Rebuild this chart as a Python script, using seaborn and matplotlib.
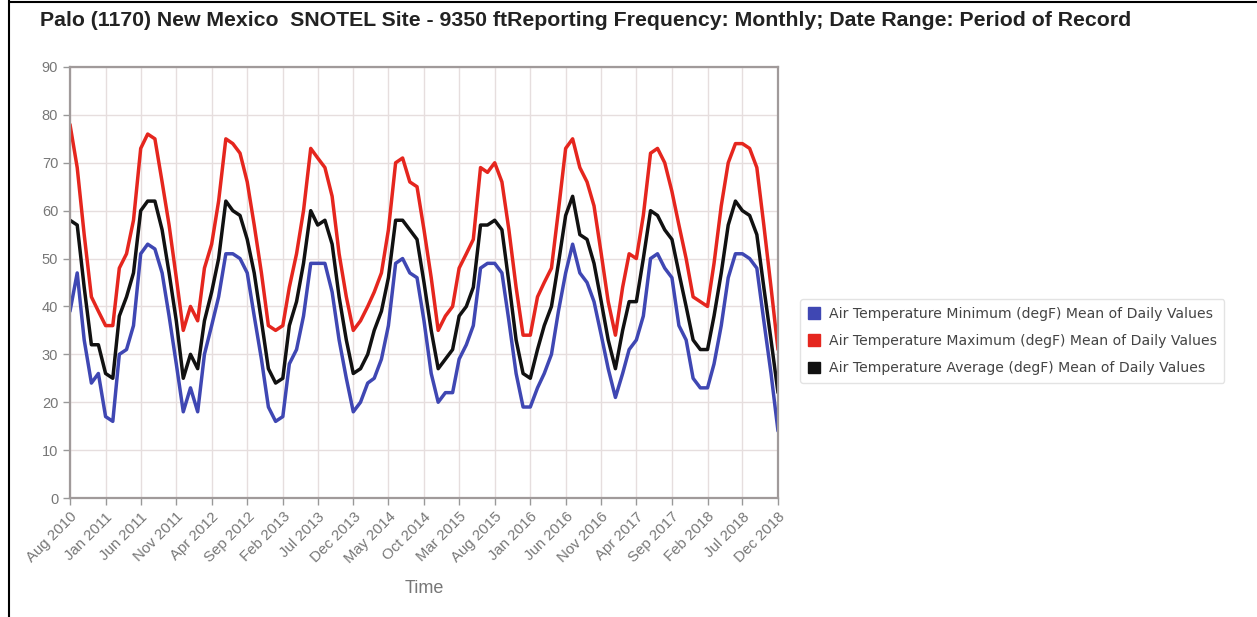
import matplotlib
matplotlib.use("Agg")
import matplotlib.pyplot as plt
from matplotlib.patches import Patch
from matplotlib.lines import Line2D
import seaborn as sns
import pandas as pd

# monthly means, Aug 2010 .. Dec 2018 (degF)
temp_min = [39, 47, 33, 24, 26, 17, 16, 30, 31, 36, 51, 53, 52, 47, 38, 28, 18, 23, 18, 30,
            36, 42, 51, 51, 50, 47, 38, 29, 19, 16, 17, 28, 31, 38, 49, 49, 49, 43, 33, 25,
            18, 20, 24, 25, 29, 36, 49, 50, 47, 46, 37, 26, 20, 22, 22, 29, 32, 36, 48, 49,
            49, 47, 37, 26, 19, 19, 23, 26, 30, 39, 47, 53, 47, 45, 41, 34, 27, 21, 26, 31,
            33, 38, 50, 51, 48, 46, 36, 33, 25, 23, 23, 28, 36, 46, 51, 51, 50, 48, 37, 26, 14]
temp_max = [78, 69, 55, 42, 39, 36, 36, 48, 51, 58, 73, 76, 75, 66, 57, 46, 35, 40, 37, 48,
            53, 62, 75, 74, 72, 66, 57, 47, 36, 35, 36, 44, 51, 60, 73, 71, 69, 63, 51, 42,
            35, 37, 40, 43, 47, 56, 70, 71, 66, 65, 56, 46, 35, 38, 40, 48, 51, 54, 69, 68,
            70, 66, 56, 44, 34, 34, 42, 45, 48, 60, 73, 75, 69, 66, 61, 51, 41, 34, 44, 51,
            50, 59, 72, 73, 70, 64, 57, 50, 42, 41, 40, 49, 61, 70, 74, 74, 73, 69, 57, 44, 31]
temp_avg = [58, 57, 44, 32, 32, 26, 25, 38, 42, 47, 60, 62, 62, 56, 47, 37, 25, 30, 27, 37,
            43, 50, 62, 60, 59, 54, 47, 37, 27, 24, 25, 36, 41, 49, 60, 57, 58, 53, 42, 33,
            26, 27, 30, 35, 39, 46, 58, 58, 56, 54, 45, 35, 27, 29, 31, 38, 40, 44, 57, 57,
            58, 56, 45, 33, 26, 25, 31, 36, 40, 49, 59, 63, 55, 54, 49, 41, 33, 27, 35, 41,
            41, 50, 60, 59, 56, 54, 47, 40, 33, 31, 31, 38, 47, 57, 62, 60, 59, 55, 44, 33, 22]

months = pd.date_range("2010-08-01", periods=len(temp_min), freq="MS")

names = ["Air Temperature Minimum (degF) Mean of Daily Values",
         "Air Temperature Maximum (degF) Mean of Daily Values",
         "Air Temperature Average (degF) Mean of Daily Values"]
colors = ["#3f47b3", "#e5261e", "#111111"]

df = pd.concat([
    pd.DataFrame({"time": months, "value": temp_min, "series": names[0]}),
    pd.DataFrame({"time": months, "value": temp_max, "series": names[1]}),
    pd.DataFrame({"time": months, "value": temp_avg, "series": names[2]}),
])

sns.set_style("white")
plt.rcParams["font.family"] = ["Liberation Sans", "DejaVu Sans"]

fig = plt.figure(figsize=(12.57, 6.17), dpi=100)
ax = fig.add_axes([70 / 1257, 1 - 498 / 617, 708 / 1257, 431 / 617])

sns.lineplot(data=df, x="time", y="value", hue="series", palette=dict(zip(names, colors)),
             linewidth=2.5, ax=ax, legend=False)

ax.set_xlim(months[0], months[-1])
ax.set_ylim(0, 90)
ax.set_yticks(range(0, 91, 10))
ticks = months[::5]
ax.set_xticks(ticks)
ax.set_xticklabels([d.strftime("%b %Y") for d in ticks], rotation=45, ha="right",
                   rotation_mode="anchor", color="#777777", fontsize=10.8)
ax.tick_params(axis="y", labelcolor="#777777", labelsize=10.5)
ax.tick_params(axis="both", length=5, color="#999999", width=1, direction="out",
               bottom=True, left=True)
ax.grid(True, color="#e6dede", linewidth=1)
for s in ax.spines.values():
    s.set_color("#a09a9a")
    s.set_linewidth(1.6)
ax.set_ylabel("")
ax.set_xlabel("Time", color="#777777", fontsize=13, labelpad=10)

handles = [Patch(facecolor=c, edgecolor=c) for c in colors]
leg = fig.legend(handles, names, loc="center left", bbox_to_anchor=(793 / 1257, 1 - 341 / 617),
                 prop={"family": "DejaVu Sans", "size": 10.1}, frameon=True,
                 handlelength=0.9, handleheight=0.9, handletextpad=0.6,
                 labelspacing=0.95, borderpad=0.55)
leg.get_frame().set_edgecolor("#dddddd")
leg.get_frame().set_linewidth(1)
for t in leg.get_texts():
    t.set_color("#444444")

fig.text(40 / 1257, 1 - 20 / 617,
         "Palo (1170) New Mexico  SNOTEL Site - 9350 ftReporting Frequency: Monthly; Date Range: Period of Record",
         ha="left", va="center", fontsize=15.3, fontweight="bold", color="#222222")

fig.add_artist(Line2D([9 / 1257, 9 / 1257], [0, 1], color="black", linewidth=1.5))
fig.add_artist(Line2D([9 / 1257, 1], [1 - 2 / 617, 1 - 2 / 617], color="black", linewidth=1.5))

fig.savefig("out.png", dpi=100, facecolor="white")
